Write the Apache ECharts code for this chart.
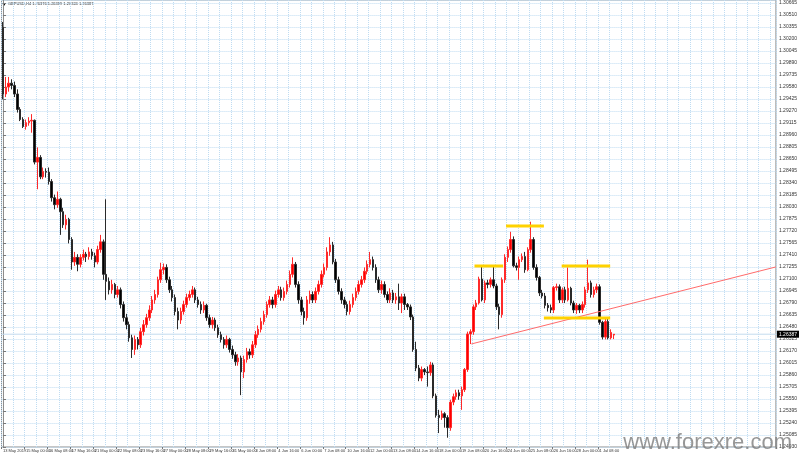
<!DOCTYPE html>
<html>
<head>
<meta charset="utf-8">
<script src="https://cdn.jsdelivr.net/npm/echarts@6/dist/echarts.min.js"></script>
<style>html,body{margin:0;padding:0;background:#fff}#chart{width:800px;height:457px}</style>
</head>
<body>
<div id="chart"></div>
<script>
// GBPUSD H4, bars from 13 May 2019 16:00
const openP = [
1.3035,1.2949,1.2958,1.2963,1.2960,1.2949,1.2929,1.2916,1.2907,1.2912,
1.2914,1.2915,1.2861,1.2867,1.2842,1.2849,1.2848,1.2836,1.2815,1.2806,
1.2813,1.2797,1.2780,1.2787,1.2761,1.2732,1.2738,1.2729,1.2738,1.2742,
1.2739,1.2745,1.2740,1.2732,1.2748,1.2758,1.2716,1.2707,1.2696,1.2703,
1.2690,1.2696,1.2677,1.2660,1.2651,1.2634,1.2619,1.2632,1.2625,1.2642,
1.2651,1.2660,1.2670,1.2683,1.2690,1.2709,1.2722,1.2725,1.2709,1.2696,
1.2686,1.2668,1.2657,1.2668,1.2677,1.2686,1.2690,1.2696,1.2683,1.2677,
1.2670,1.2676,1.2660,1.2651,1.2657,1.2647,1.2638,1.2632,1.2625,1.2632,
1.2619,1.2612,1.2603,1.2608,1.2590,1.2606,1.2616,1.2612,1.2625,1.2638,
1.2645,1.2655,1.2664,1.2677,1.2683,1.2677,1.2690,1.2696,1.2686,1.2694,
1.2703,1.2716,1.2729,1.2703,1.2683,1.2668,1.2660,1.2683,1.2690,1.2683,
1.2694,1.2703,1.2716,1.2725,1.2745,1.2754,1.2732,1.2709,1.2694,1.2683,
1.2677,1.2668,1.2677,1.2686,1.2694,1.2703,1.2709,1.2720,1.2729,1.2735,
1.2725,1.2709,1.2696,1.2703,1.2690,1.2683,1.2692,1.2683,1.2687,1.2679,
1.2687,1.2677,1.2674,1.2661,1.2619,1.2595,1.2582,1.2593,1.2590,1.2589,
1.2599,1.2559,1.2534,1.2531,1.2536,1.2531,1.2518,1.2551,1.2558,1.2563,
1.2559,1.2567,1.2593,1.2639,1.2642,1.2674,1.2679,1.2710,1.2683,1.2705,
1.2703,1.2709,1.2701,1.2674,1.2664,1.2709,1.2738,1.2748,1.2761,1.2727,
1.2725,1.2735,1.2739,1.2722,1.2748,1.2761,1.2725,1.2712,1.2692,1.2688,
1.2676,1.2673,1.2670,1.2699,1.2700,1.2683,1.2696,1.2683,1.2698,1.2679,
1.2670,1.2676,1.2670,1.2677,1.2696,1.2705,1.2690,1.2696,1.2700,1.2654,
1.2635,1.2655,1.2634,1.26376];
const closeP = [
1.2949,1.2958,1.2963,1.2960,1.2949,1.2929,1.2916,1.2907,1.2912,1.2914,
1.2915,1.2861,1.2867,1.2842,1.2849,1.2848,1.2836,1.2815,1.2806,1.2813,
1.2797,1.2780,1.2787,1.2761,1.2732,1.2738,1.2729,1.2738,1.2742,1.2739,
1.2745,1.2740,1.2732,1.2748,1.2758,1.2716,1.2707,1.2696,1.2703,1.2690,
1.2696,1.2677,1.2660,1.2651,1.2634,1.2619,1.2632,1.2625,1.2642,1.2651,
1.2660,1.2670,1.2683,1.2690,1.2709,1.2722,1.2725,1.2709,1.2696,1.2686,
1.2668,1.2657,1.2668,1.2677,1.2686,1.2690,1.2696,1.2683,1.2677,1.2670,
1.2676,1.2660,1.2651,1.2657,1.2647,1.2638,1.2632,1.2625,1.2632,1.2619,
1.2612,1.2603,1.2608,1.2590,1.2606,1.2616,1.2612,1.2625,1.2638,1.2645,
1.2655,1.2664,1.2677,1.2683,1.2677,1.2690,1.2696,1.2686,1.2694,1.2703,
1.2716,1.2729,1.2703,1.2683,1.2668,1.2660,1.2683,1.2690,1.2683,1.2694,
1.2703,1.2716,1.2725,1.2745,1.2754,1.2732,1.2709,1.2694,1.2683,1.2677,
1.2668,1.2677,1.2686,1.2694,1.2703,1.2709,1.2720,1.2729,1.2735,1.2725,
1.2709,1.2696,1.2703,1.2690,1.2683,1.2692,1.2683,1.2687,1.2679,1.2687,
1.2677,1.2674,1.2661,1.2619,1.2595,1.2582,1.2593,1.2590,1.2589,1.2599,
1.2559,1.2534,1.2531,1.2536,1.2531,1.2518,1.2551,1.2558,1.2563,1.2559,
1.2567,1.2593,1.2639,1.2642,1.2674,1.2679,1.2710,1.2683,1.2705,1.2703,
1.2709,1.2701,1.2674,1.2664,1.2709,1.2738,1.2748,1.2761,1.2727,1.2725,
1.2735,1.2739,1.2722,1.2748,1.2761,1.2725,1.2712,1.2692,1.2688,1.2676,
1.2673,1.2670,1.2699,1.2700,1.2683,1.2696,1.2683,1.2698,1.2679,1.2670,
1.2676,1.2670,1.2677,1.2696,1.2705,1.2690,1.2696,1.2700,1.2654,1.2635,
1.2655,1.2634,1.2641,1.26387];
const lowP = [
1.2942,1.2945,1.2952,1.2955,1.2945,1.2925,1.2914,1.2905,1.2903,1.2908,
1.2899,1.2858,1.2826,1.2839,1.2839,1.2841,1.2832,1.2810,1.2800,1.2802,
1.2767,1.2776,1.2774,1.2756,1.2722,1.2727,1.2720,1.2725,1.2734,1.2732,
1.2735,1.2735,1.2725,1.2729,1.2744,1.2709,1.2683,1.2690,1.2691,1.2685,
1.2686,1.2672,1.2655,1.2645,1.2629,1.2608,1.2612,1.2619,1.2621,1.2637,
1.2647,1.2656,1.2666,1.2678,1.2686,1.2705,1.2716,1.2705,1.2692,1.2681,
1.2663,1.2645,1.2652,1.2664,1.2673,1.2682,1.2686,1.2679,1.2673,1.2665,
1.2666,1.2656,1.2647,1.2646,1.2643,1.2634,1.2628,1.2620,1.2621,1.2615,
1.2607,1.2598,1.2598,1.2560,1.2582,1.2602,1.2607,1.2608,1.2621,1.2634,
1.2641,1.2651,1.2660,1.2673,1.2672,1.2673,1.2686,1.2682,1.2682,1.2690,
1.2699,1.2712,1.2699,1.2678,1.2663,1.2651,1.2656,1.2678,1.2679,1.2679,
1.2690,1.2699,1.2712,1.2721,1.2740,1.2729,1.2705,1.2690,1.2678,1.2672,
1.2663,1.2664,1.2673,1.2682,1.2690,1.2699,1.2705,1.2716,1.2725,1.2721,
1.2705,1.2692,1.2691,1.2686,1.2679,1.2679,1.2679,1.2678,1.2670,1.2666,
1.2670,1.2670,1.2657,1.2616,1.2591,1.2578,1.2578,1.2586,1.2571,1.2585,
1.2556,1.2531,1.2511,1.2528,1.2518,1.2505,1.2514,1.2547,1.2554,1.2554,
1.2541,1.2564,1.2590,1.2626,1.2638,1.2670,1.2677,1.2681,1.2679,1.2698,
1.2699,1.2698,1.2670,1.2645,1.2660,1.2705,1.2732,1.2744,1.2725,1.2721,
1.2709,1.2732,1.2718,1.2720,1.2744,1.2722,1.2708,1.2688,1.2685,1.2672,
1.2668,1.2666,1.2666,1.2695,1.2679,1.2679,1.2679,1.2681,1.2676,1.2666,
1.2665,1.2666,1.2666,1.2673,1.2692,1.2686,1.2686,1.2692,1.2651,1.2632,
1.2632,1.2632,1.2632,1.26324];
const highP = [
1.3042,1.2971,1.2971,1.2968,1.2965,1.2955,1.2932,1.2919,1.2916,1.2919,
1.2923,1.2916,1.2880,1.2870,1.2854,1.2853,1.2854,1.2839,1.2819,1.2823,
1.2815,1.2802,1.2793,1.2789,1.2764,1.2745,1.2742,1.2742,1.2748,1.2745,
1.2751,1.2749,1.2744,1.2753,1.2767,1.2761,1.2813,1.2712,1.2709,1.2705,
1.2701,1.2699,1.2681,1.2665,1.2655,1.2638,1.2637,1.2635,1.2647,1.2657,
1.2665,1.2676,1.2688,1.2696,1.2713,1.2731,1.2730,1.2729,1.2713,1.2701,
1.2690,1.2673,1.2673,1.2682,1.2691,1.2695,1.2701,1.2699,1.2687,1.2681,
1.2681,1.2678,1.2664,1.2661,1.2660,1.2651,1.2642,1.2635,1.2637,1.2634,
1.2624,1.2616,1.2613,1.2611,1.2611,1.2621,1.2620,1.2630,1.2643,1.2650,
1.2660,1.2669,1.2681,1.2688,1.2687,1.2695,1.2701,1.2700,1.2699,1.2708,
1.2721,1.2738,1.2732,1.2707,1.2687,1.2673,1.2688,1.2695,1.2694,1.2699,
1.2708,1.2721,1.2730,1.2751,1.2764,1.2758,1.2736,1.2713,1.2698,1.2687,
1.2681,1.2682,1.2691,1.2699,1.2708,1.2714,1.2725,1.2734,1.2745,1.2739,
1.2729,1.2713,1.2708,1.2707,1.2694,1.2698,1.2696,1.2692,1.2704,1.2691,
1.2691,1.2679,1.2677,1.2664,1.2629,1.2599,1.2597,1.2595,1.2597,1.2603,
1.2602,1.2562,1.2541,1.2540,1.2538,1.2534,1.2554,1.2562,1.2567,1.2567,
1.2571,1.2595,1.2642,1.2645,1.2677,1.2683,1.2713,1.2726,1.2708,1.2709,
1.2712,1.2726,1.2704,1.2678,1.2712,1.2742,1.2752,1.2771,1.2765,1.2731,
1.2739,1.2743,1.2745,1.2751,1.2784,1.2764,1.2729,1.2714,1.2696,1.2692,
1.2679,1.2677,1.2701,1.2704,1.2703,1.2699,1.2700,1.2725,1.2700,1.2682,
1.2679,1.2678,1.2681,1.2700,1.2735,1.2708,1.2700,1.2704,1.2703,1.2656,
1.2660,1.2659,1.2645,1.26389];

// time-axis labels, one every 8 bars
const xTickLabels = ['13 May 2019','15 May 00:00','16 May 08:00','17 May 16:00','21 May 00:00','22 May 08:00',
'23 May 16:00','27 May 00:00','28 May 08:00','29 May 16:00','31 May 00:00','3 Jun 08:00','4 Jun 16:00',
'6 Jun 00:00','7 Jun 08:00','10 Jun 16:00','12 Jun 00:00','13 Jun 08:00','14 Jun 16:00','18 Jun 00:00',
'19 Jun 08:00','20 Jun 16:00','24 Jun 00:00','25 Jun 08:00','26 Jun 16:00','28 Jun 00:00','1 Jul 08:00'];
const labelEvery = 8;
const totalSlots = 270;  // bars + empty space on the right

// price axis
const priceMin = 1.2493, priceMax = 1.30704, priceStep = 0.00155;

// drawn objects: [barIndex, price]
const trendLine = [[163.3, 1.26261], [269.5, 1.27256]];
const leftShoulder = [[164.4, 1.27268], [174.4, 1.27268]];
const headLine = [[175.4, 1.27785], [188.6, 1.27785]];
const rightShoulder = [[194.8, 1.27268], [211.7, 1.27268]];
const neckLine = [[188.6, 1.26596], [211.7, 1.26596]];

const titleText = 'GBPUSD,H4 1.26376 1.26389 1.26324 1.26387';
const bidPrice = closeP[closeP.length - 1];
const bidLine = [[-0.5, bidPrice], [totalSlots - 0.5, bidPrice]];

const cats = Array.from({length: totalSlots}, (_, i) => String(i));
const candles = openP.map((o, i) => [o, closeP[i], lowP[i], highP[i]]);
const lastLabelIdx = (xTickLabels.length - 1) * labelEvery;
const labelInt = (i) => i % labelEvery === 0 && i <= lastLabelIdx;

const chart = echarts.init(document.getElementById('chart'), null, {renderer: 'canvas'});
const yellow = (data) => ({type: 'line', xAxisIndex: 1, data, symbol: 'none', silent: true,
  lineStyle: {color: '#ffd200', width: 3}, z: 5});
chart.setOption({
  animation: false,
  backgroundColor: '#ffffff',
  grid: {left: 1, right: 18, top: 0, bottom: 10, show: true, borderColor: '#8c8c8c', borderWidth: 1},
  xAxis: [{
    type: 'category', data: cats, boundaryGap: true,
    axisLine: {show: false},
    axisTick: {show: true, interval: labelInt, length: 2, lineStyle: {color: '#777'}},
    axisLabel: {interval: labelInt, showMinLabel: true, hideOverlap: false, align: 'left', margin: 2,
      fontSize: 4, color: '#333', fontFamily: 'Liberation Sans',
      formatter: (v, i) => xTickLabels[Math.round(i / labelEvery)] || ''},
    splitLine: {show: true, interval: (i) => i % 4 === 0, lineStyle: {color: '#bfdcf2', type: 'dotted', width: 1}}
  }, {
    type: 'value', min: -0.5, max: totalSlots - 0.5, show: false
  }],
  yAxis: {
    type: 'value', position: 'right', min: priceMin, max: priceMax, interval: priceStep,
    axisLine: {show: true, lineStyle: {color: '#8c8c8c'}},
    axisTick: {show: true, length: 3, lineStyle: {color: '#777'}},
    axisLabel: {fontSize: 5, color: '#333', margin: 3, showMaxLabel: false, fontFamily: 'Liberation Sans',
      formatter: (v) => v.toFixed(5)},
    splitLine: {show: true, lineStyle: {color: '#bfdcf2', type: 'dotted', width: 1}}
  },
  series: [{
    type: 'line', xAxisIndex: 1, data: bidLine, symbol: 'none', silent: true, z: 1,
    lineStyle: {color: '#c3dbee', width: 1},
    endLabel: {show: true, distance: 1, formatter: () => bidPrice.toFixed(5),
      backgroundColor: '#000', color: '#fff', fontSize: 5, padding: [1, 2], fontFamily: 'Liberation Sans'}
  }, {
    type: 'candlestick', data: candles, barWidth: 2, z: 3,
    itemStyle: {color: '#ff0000', color0: '#000000', borderColor: '#ff2a2a', borderColor0: '#2a2a2a', borderWidth: 1}
  }, {
    type: 'line', xAxisIndex: 1, data: trendLine, symbol: 'none', silent: true,
    lineStyle: {color: '#ff6b6b', width: 1}, z: 4
  },
  yellow(leftShoulder), yellow(headLine), yellow(rightShoulder), yellow(neckLine)],
  graphic: [
    {type: 'polygon', shape: {points: [[2, 3], [6, 3], [4, 6]]}, style: {fill: '#000'}},
    {type: 'text', left: 8, top: 2, style: {text: titleText, fontSize: 4, fill: '#222', fontFamily: 'Liberation Sans'}},
    {type: 'text', right: 8, bottom: 3, z: 100, style: {text: 'www.forexre.com', fontSize: 22, fill: 'rgba(125,125,125,0.8)', fontFamily: 'Liberation Sans'}}
  ]
});
</script>
</body>
</html>
